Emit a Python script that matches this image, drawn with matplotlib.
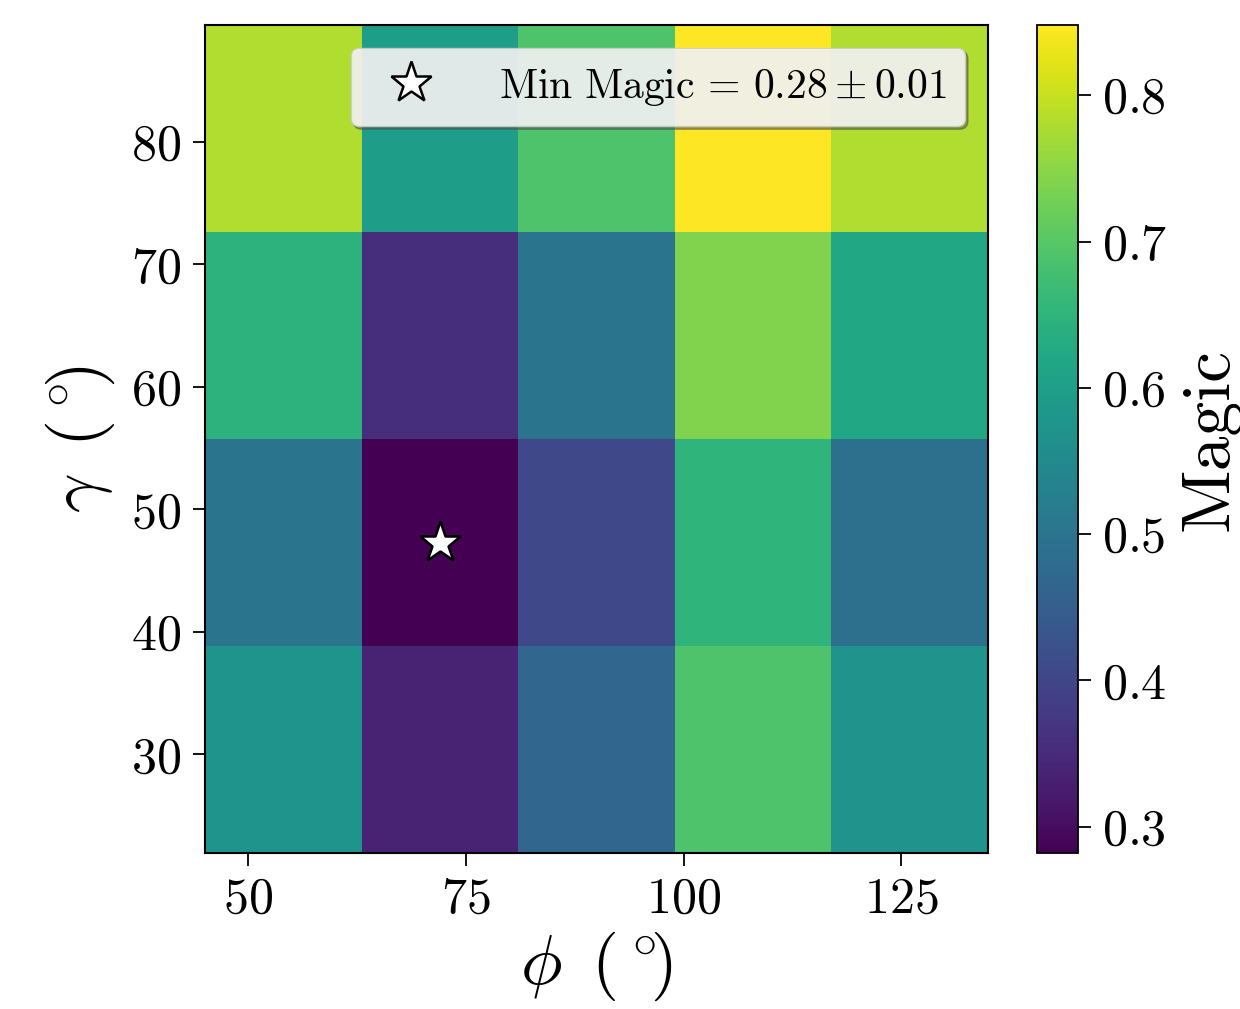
import numpy as np
import matplotlib
matplotlib.use("Agg")
import matplotlib.pyplot as plt

plt.rcParams.update({
    "font.family": "serif",
    "font.serif": ["cmr10"],
    "mathtext.fontset": "cm",
    "axes.formatter.use_mathtext": True,
    "axes.unicode_minus": False,
})

# Grid of angles (degrees)
phi = [54, 72, 90, 108, 126]
gamma = [30.4, 47.3, 64.2, 81.1]

# Magic value for each (gamma, phi) cell; rows follow gamma
magic = np.array([
    [0.575, 0.337, 0.468, 0.690, 0.572],
    [0.500, 0.282, 0.405, 0.650, 0.488],
    [0.645, 0.355, 0.500, 0.740, 0.620],
    [0.780, 0.595, 0.690, 0.848, 0.780],
])

min_magic = 0.28
min_magic_err = 0.01
best_phi = 72
best_gamma = 47.3

fig = plt.figure(figsize=(12.4, 10.09), dpi=100)
ax = fig.add_axes([0.1653, 0.1546, 0.6315, 0.8206])
cax = fig.add_axes([0.8363, 0.1546, 0.0331, 0.8206])

mesh = ax.pcolormesh(phi, gamma, magic, cmap="viridis", shading="nearest")
ax.plot(best_phi, best_gamma, linestyle="none", marker="*", markersize=31,
        markerfacecolor="white", markeredgecolor="black", markeredgewidth=1.8,
        label=r"$\mathrm{Min\ Magic}\,=\,%.2f \pm %.2f$" % (min_magic, min_magic_err))

ax.set_xticks([50, 75, 100, 125])
ax.set_yticks([30, 40, 50, 60, 70, 80])
ax.tick_params(labelsize=36, length=9, width=1.3, pad=8)
ax.set_xlabel(r"$\phi\ \,(\,{}^{\circ}\!)$", fontsize=50, labelpad=5)
ax.set_ylabel(r"$\gamma\ \,(\,{}^{\circ}\!)$", fontsize=50, labelpad=10)
for s in ax.spines.values():
    s.set_linewidth(1.5)

leg = ax.legend(loc="upper right", fontsize=30, shadow=True, fancybox=True,
                framealpha=0.85, borderpad=0.45, handletextpad=1.1,
                borderaxespad=0.55)

cb = fig.colorbar(mesh, cax=cax)
cb.set_ticks([0.3, 0.4, 0.5, 0.6, 0.7, 0.8])
cb.ax.tick_params(labelsize=36, length=9, width=1.3, pad=8)
cb.set_label("Magic", fontsize=50, labelpad=10)
cb.outline.set_linewidth(1.3)

fig.savefig("out.png", dpi=100)
